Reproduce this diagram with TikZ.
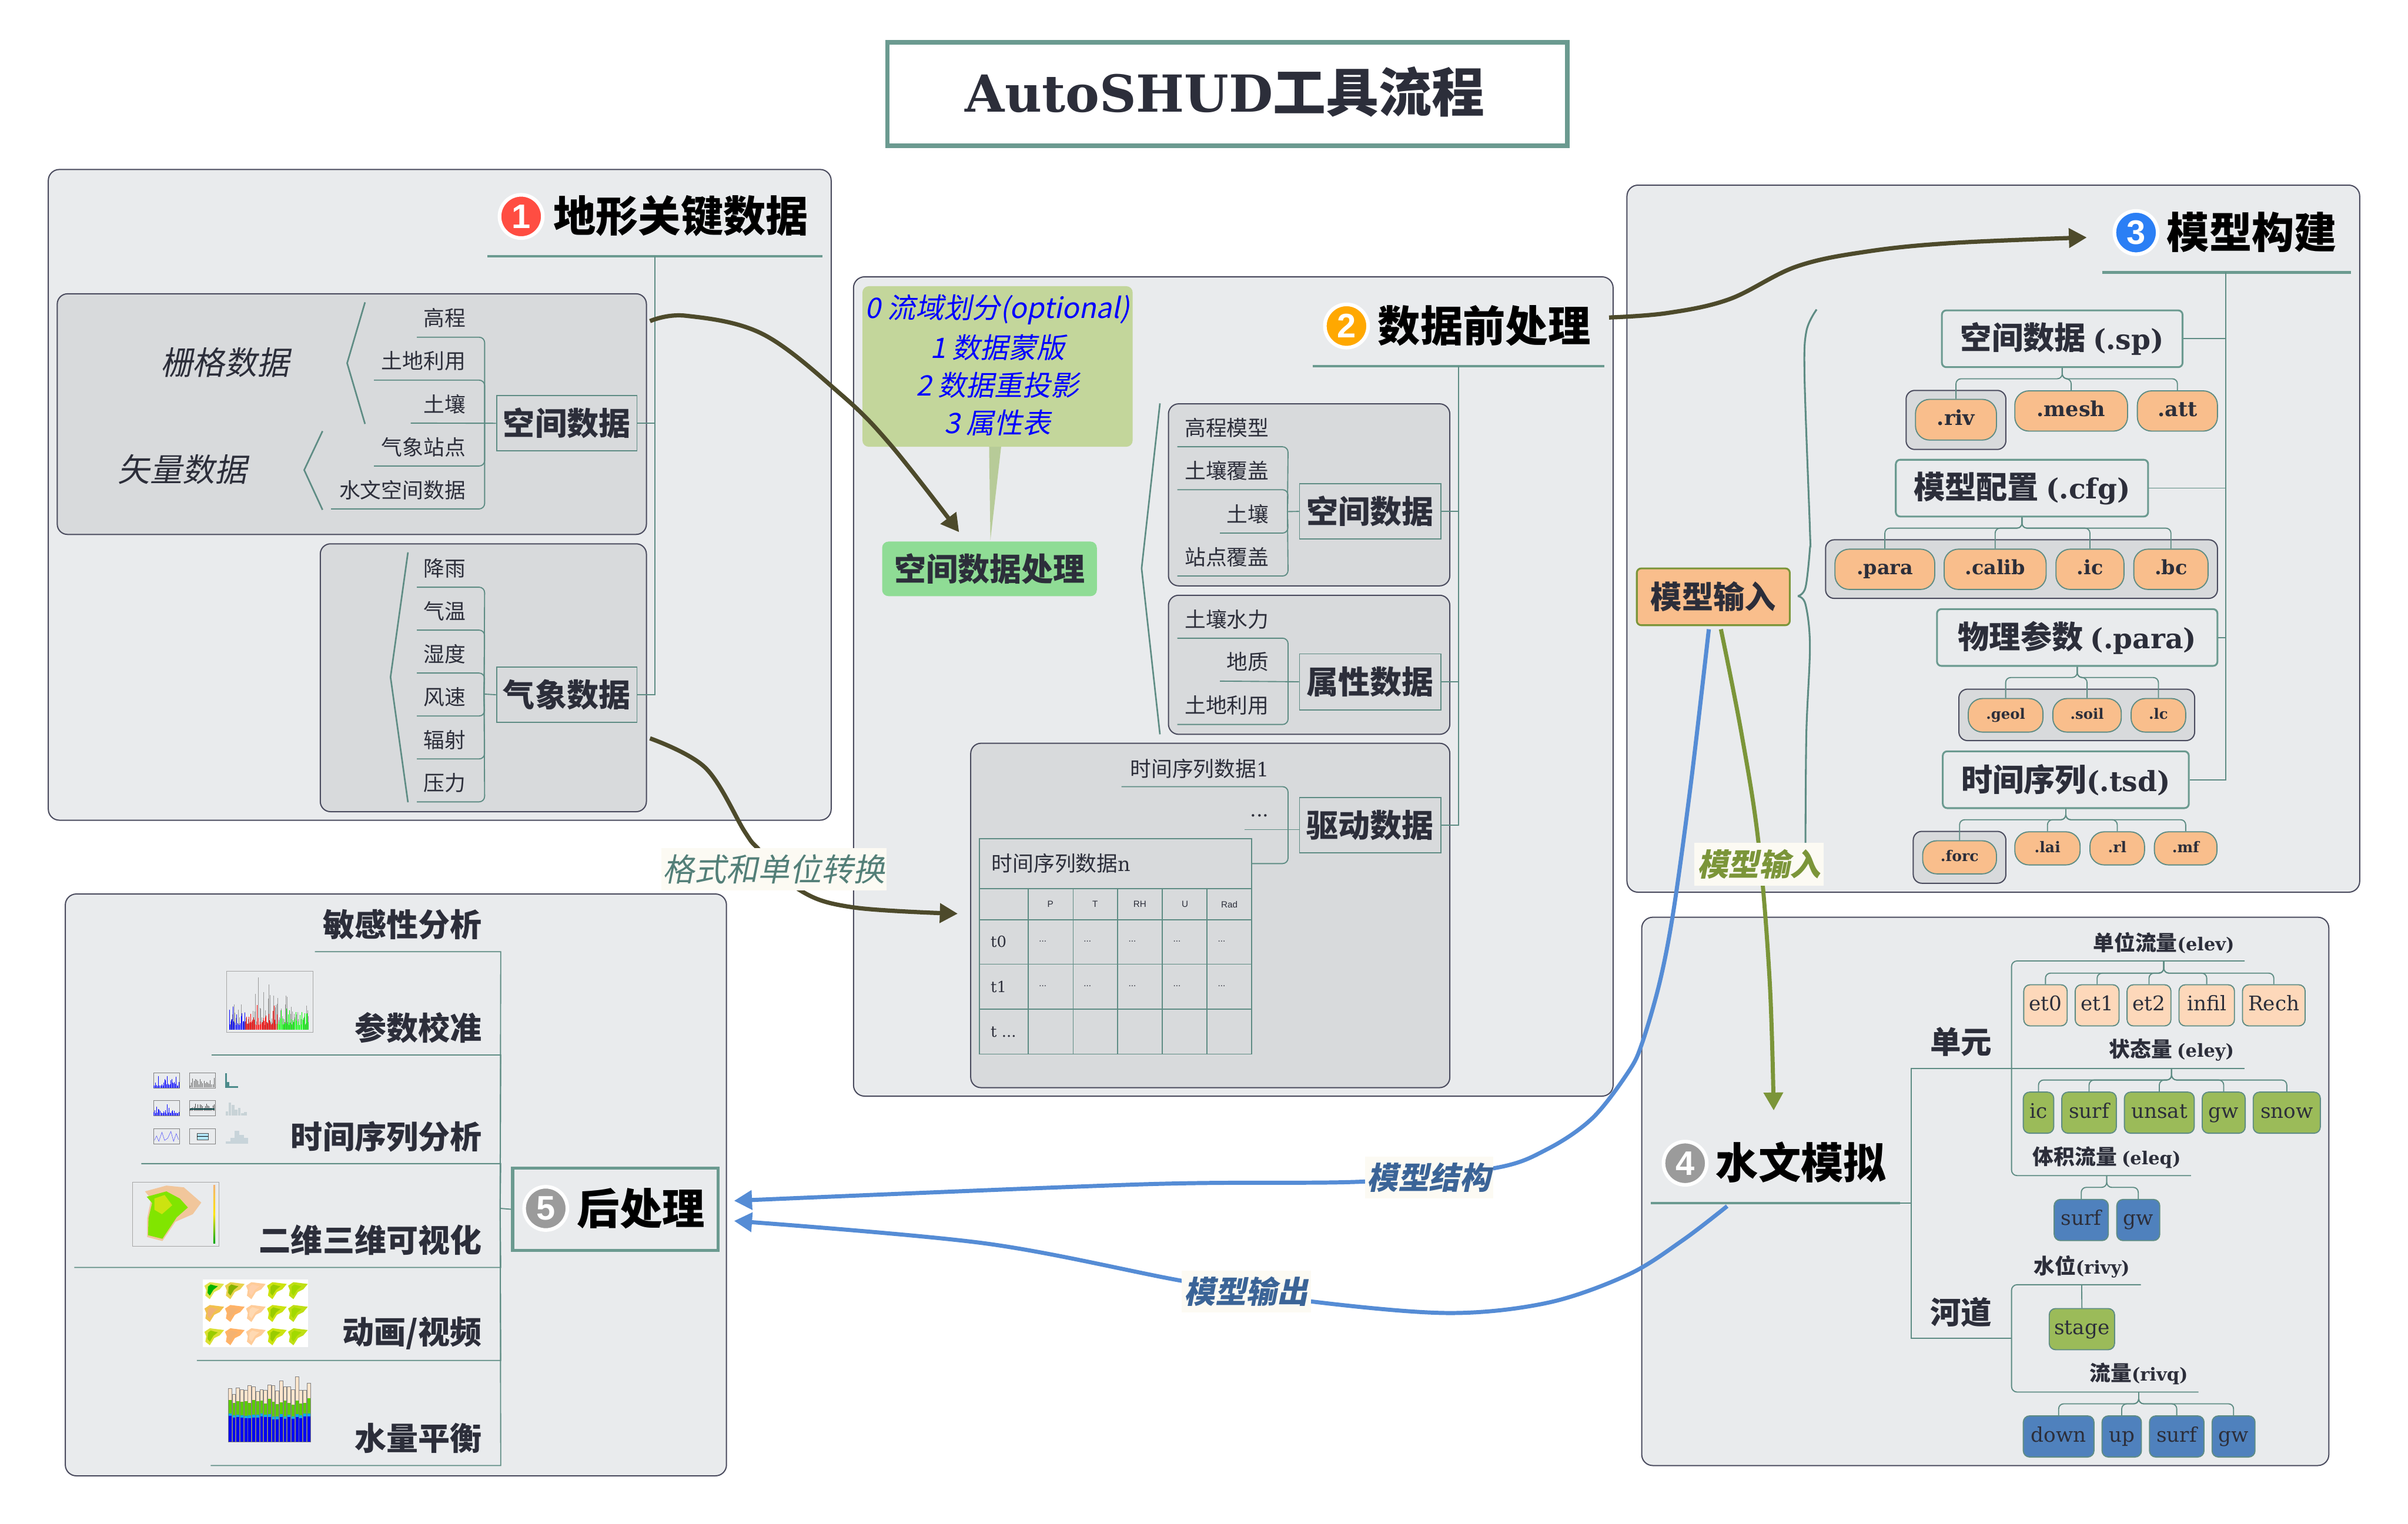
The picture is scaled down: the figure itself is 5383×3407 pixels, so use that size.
\documentclass[tikz,border=0pt]{standalone}
\usepackage{fontspec}
\usetikzlibrary{arrows.meta}
\setmainfont{Noto Sans CJK SC}
\newfontfamily\lat{DejaVu Serif}
\newfontfamily\cjit[FakeSlant=0.2]{Noto Sans CJK SC}
\newfontfamily\lsan{Liberation Sans}
\newcommand\fs[1]{\fontsize{\the\dimexpr 0.2845pt*#1\relax}{\the\dimexpr 0.34pt*#1\relax}\selectfont}
\newcommand\Pl[2]{\fs{#1}\lat\vphantom{dg}#2}
\definecolor{panelf}{HTML}{E9EBED}
\definecolor{subf}{HTML}{D8DADC}
\definecolor{panelb}{HTML}{4A4B5E}
\definecolor{tealn}{HTML}{5E8C84}
\definecolor{tealk}{HTML}{6B9A90}
\definecolor{ink}{HTML}{2C2E3A}
\definecolor{orng}{HTML}{F9BE8C}
\definecolor{lorng}{HTML}{FDD8BA}
\definecolor{grn}{HTML}{9BBB59}
\definecolor{blu}{HTML}{4F81BD}
\definecolor{calf}{HTML}{C3D69B}
\definecolor{calp}{HTML}{B7CB98}
\definecolor{mint}{HTML}{8FDC95}
\definecolor{darr}{HTML}{4D4A2B}
\definecolor{barr}{HTML}{558CD5}
\definecolor{garr}{HTML}{7B9539}
\definecolor{lblue}{HTML}{3B6497}
\definecolor{lteal}{HTML}{537F78}
\definecolor{lfill}{HTML}{FCFAF3}
\definecolor{bgred}{HTML}{FF4D42}
\definecolor{bgorg}{HTML}{FFA800}
\definecolor{bgblu}{HTML}{2B7FF5}
\definecolor{bggry}{HTML}{9B9B9B}
\tikzset{
 panel/.style={fill=panelf,draw=panelb,line width=.75pt,rounded corners=7pt},
 subpanel/.style={fill=subf,draw=panelb,line width=.75pt,rounded corners=6.5pt},
 tl/.style={draw=tealn,line width=.7pt},
 tlr/.style={tl,rounded corners=3.5pt},
 tkl/.style={draw=tealk,line width=1.7pt},
 brk/.style={draw=tealn,line width=1pt},
 txt/.style={inner sep=0,text=ink},
 boxthin/.style={txt,draw=tealn,line width=.7pt,font=\fs{71}\bfseries},
 boxthick/.style={txt,draw=tealk,line width=1.15pt,rounded corners=2.8pt,font=\fs{70}\bfseries},
 pill/.style={txt,draw=tealn,fill=orng,line width=.7pt,rounded corners=9pt,font=\bfseries},
 chip/.style={txt,draw=tealn,line width=.7pt,rounded corners=4pt,font=\fs{45}\lat},
 hdr/.style={inner sep=0,text=black,font=\fs{95}\bfseries},
 leaflab/.style={inner sep=0,text=ink,font=\fs{47}},
 ptlab/.style={inner sep=0,text=ink,font=\fs{71}\bfseries},
 conlab/.style={inner sep=0,fill=lfill,font=\fs{71}\cjit},
 arr/.style={line width=2.7pt,line cap=butt},
 tipk/.style={-{Triangle[length=11.4pt,width=12pt]}},
 cellt/.style={inner sep=0,text=ink},
 badge/.style={circle,draw=white,line width=2.3pt,minimum size=27.5pt,inner sep=0,text=white,font=\fs{76}\bfseries\lsan},
}
% name x1 y1 x2 y2 style text
\newcommand\R[7]{\pgfmathsetmacro\xc{(#2+#4)/2}\pgfmathsetmacro\yc{(#3+#5)/2}%
 \node[#6,minimum width={(#4-#2)*0.01cm},minimum height={(#5-#3)*0.01cm}] (#1) at (\xc,\yc) {#7};}
% name left yline right height style text  : underlined, text right-aligned
\newcommand\leaf[7]{\pgfmathsetlengthmacro\lw{(#4-#2)*0.01cm}%
 \node[#6,minimum width=\lw,minimum height={#5*0.01cm},anchor=south west] (#1) at (#2,#3) {\hbox to \lw{\hss #7\hskip 11.95pt}};}
\newcommand\tree[3]{\draw[tl,rounded corners=3.2pt] (#1.south) -- (#1.south |- 0,#2) -- (#3.north |- 0,#2) -- (#3.north);}
\newcommand\blob[4]{\begin{scope}[shift={(#1,#2)}]
 \fill[#3] (0,8)--(12,0)--(28,2)--(44,4)--(34,16)--(22,22)--(12,38)--(2,30)--(4,18)--cycle;
 \fill[#4] (8,10)--(14,5)--(24,8)--(30,9)--(20,17)--(12,30)--(7,24)--cycle;
 \end{scope}}
\begin{document}
\begin{tikzpicture}[x=0.01cm,y=-0.01cm]
\useasboundingbox (0,0) rectangle (5383,3407);
\fill[white] (0,0) rectangle (5383,3407);
% title
\R{title}{1984}{95}{3504}{326}{draw=tealk,line width=2.85pt,inner sep=0}{}
\node[inner sep=0,text=ink,font=\bfseries] (titlet) at (2738,205) {{\fs{114}\lat AutoSHUD}{\fs{118}工具流程}};
% ---------- panels
\draw[panel] (108,379) rectangle (1858,1834);
\draw[panel] (1908,619) rectangle (3606,2451);
\draw[panel] (3637,414) rectangle (5275,1995);
\draw[panel] (3670,2051) rectangle (5206,3277);
\draw[panel] (146,1999) rectangle (1624,3300);
% ---------- panel 1
\draw[subpanel] (128,657) rectangle (1445,1195);
\draw[subpanel] (716,1216) rectangle (1445,1815);
\node[hdr] (h1) at (1522,483) {地形关键数据};
\node[badge,fill=bgred] (b1) at (1165,484) {1};
\coordinate (h1l) at (1090,573); \coordinate (h1r) at (1838,573); \coordinate (h1c) at (1464,573);
\draw[tkl] (h1l) -- (h1r);
\R{sd1}{1110}{885}{1424}{1008}{boxthin}{\raisebox{1pt}{空间数据}}
\R{qx1}{1110}{1492}{1424}{1615}{boxthin}{\raisebox{1pt}{气象数据}}
\draw[tl] (h1c) |- (sd1.east); \draw[tl] (h1c) |- (qx1.east);
\leaf{a1}{932}{754}{1082}{84}{leaflab}{高程}
\leaf{a2}{836}{850}{1082}{84}{leaflab}{土地利用}
\leaf{a3}{918}{946}{1082}{84}{leaflab}{土壤}
\leaf{a4}{836}{1042}{1082}{84}{leaflab}{气象站点}
\leaf{a5}{740}{1138}{1082}{84}{leaflab}{水文空间数据}
\coordinate (ah) at (a3.south east);
\foreach \n in {a1,a2,a4,a5}{\draw[tlr] (\n.south west) -- (\n.south east) -- (ah);}
\draw[tl] (a3.south west) -- (sd1.west);
\leaf{q1}{932}{1313}{1082}{84}{leaflab}{降雨}
\leaf{q2}{932}{1409}{1082}{84}{leaflab}{气温}
\leaf{q3}{932}{1505}{1082}{84}{leaflab}{湿度}
\leaf{q4}{932}{1601}{1082}{84}{leaflab}{风速}
\leaf{q5}{932}{1697}{1082}{84}{leaflab}{辐射}
\leaf{q6}{932}{1793}{1082}{84}{leaflab}{压力}
\coordinate (qh) at (1082,1552);
\foreach \n in {q1,q2,q3,q4,q5,q6}{\draw[tlr] (\n.south west) -- (\n.south east) -- (qh);}
\draw[tl] (qh) -- (qx1.west);
\node[inner sep=0,text=ink,font=\fs{72}\cjit] (sg) at (503,810) {栅格数据};
\node[inner sep=0,text=ink,font=\fs{72}\cjit] (sl) at (408,1050) {矢量数据};
\draw[brk] (816,676) -- (776,812) -- (816,948);
\draw[brk] (721,964) -- (680,1051) -- (721,1140);
\draw[brk] (912,1235) -- (873,1514) -- (912,1794);
% ---------- panel 2
\draw[subpanel] (2612,903) rectangle (3241,1310);
\draw[subpanel] (2612,1331) rectangle (3241,1642);
\draw[subpanel] (2170,1662) rectangle (3241,2432);
\node[hdr] (h2) at (3318,728) {数据前处理};
\node[badge,fill=bgorg] (b2) at (3010,729) {2};
\coordinate (h2l) at (2934,819); \coordinate (h2r) at (3586,819); \coordinate (h2c) at (3261,819);
\draw[tkl] (h2l) -- (h2r);
\R{sd2}{2905}{1082}{3221}{1205}{boxthin}{\raisebox{1pt}{空间数据}}
\R{sx2}{2905}{1462}{3221}{1587}{boxthin}{\raisebox{1pt}{属性数据}}
\R{qd2}{2905}{1783}{3221}{1907}{boxthin}{\raisebox{1pt}{驱动数据}}
\draw[tl] (h2c) |- (sd2.east); \draw[tl] (h2c) |- (sx2.east); \draw[tl] (h2c) |- (qd2.east);
\leaf{s1}{2632}{999}{2878}{84}{leaflab}{高程模型}
\leaf{s2}{2632}{1095}{2878}{84}{leaflab}{土壤覆盖}
\leaf{s3}{2727}{1192}{2878}{84}{leaflab}{土壤}
\leaf{s4}{2632}{1288}{2878}{84}{leaflab}{站点覆盖}
\coordinate (sh) at (2878,1144);
\foreach \n in {s1,s2,s3,s4}{\draw[tlr] (\n.south west) -- (\n.south east) -- (sh);}
\draw[tl] (sh) -- (sd2.west);
\leaf{t1}{2632}{1427}{2878}{84}{leaflab}{土壤水力}
\leaf{t2}{2727}{1523}{2878}{84}{leaflab}{地质}
\leaf{t3}{2632}{1620}{2878}{84}{leaflab}{土地利用}
\coordinate (th) at (t2.south east);
\foreach \n in {t1,t3}{\draw[tlr] (\n.south west) -- (\n.south east) -- (th);}
\draw[tl] (t2.south west) -- (sx2.west);
\leaf{r1}{2507}{1759}{2878}{80}{leaflab}{时间序列数据{\fs{44}\lat 1}}
\leaf{r2}{2782}{1855}{2878}{60}{leaflab}{\fs{44}\lat ...}
\coordinate (rh) at (r2.south east);
\draw[tlr] (r1.south west) -- (r1.south east) -- (rh);
\draw[tl] (r2.south west) -- (qd2.west |- r2.south);
\R{tbl}{2190}{1875}{2798}{1987}{draw=tealn,line width=.7pt,inner sep=0}{}
\node[cellt,font=\fs{47},anchor=west] (tblt) at (2216,1930) {时间序列数据{\fs{44}\lat n}};
\draw[tlr] (tbl.east) -| (rh);
\draw[tl] (2190,1987) rectangle (2798,2357);
\foreach \y in {2057,2156,2257}{\draw[tl] (2190,\y) -- (2798,\y);}
\foreach \x in {2299,2399,2498,2598,2698}{\draw[tl] (\x,1987) -- (\x,2357);}
\foreach \x/\t/\nm in {2348/P/hp,2448/T/ht,2548/RH/hr,2649/U/hu,2748/Rad/hq}{\node[cellt,font=\fs{20}\lsan] (\nm) at (\x,2022) {\t};}
\node[cellt,font=\fs{34}\lat,anchor=west] (r0) at (2214,2106) {t0};
\node[cellt,font=\fs{34}\lat,anchor=west] (r11) at (2214,2207) {t1};
\node[cellt,font=\fs{34}\lat,anchor=west] (r2b) at (2214,2307) {t ...};
\foreach \x in {2331,2431,2531,2631,2731}{
 \node[cellt,font=\fs{20}\lsan] at (\x,2105) {...};
 \node[cellt,font=\fs{20}\lsan] at (\x,2205) {...};}
\draw[brk] (2593,902) -- (2552,1271) -- (2593,1642);
% callout
\fill[calp] (2211,990) -- (2239,990) -- (2214,1208) -- cycle;
\R{call}{1928}{640}{2532}{999}{fill=calf,rounded corners=4pt,inner sep=0}{}
\node[inner sep=0,text=blue,font=\fs{63}\cjit] (c0) at (2230,692) {0 流域划分(optional)};
\node[inner sep=0,text=blue,font=\fs{63}\cjit] (c1) at (2230,777) {1 数据蒙版};
\node[inner sep=0,text=blue,font=\fs{63}\cjit] (c2) at (2230,861) {2 数据重投影};
\node[inner sep=0,text=blue,font=\fs{63}\cjit] (c3) at (2230,945) {3 属性表};
\R{spp}{1972}{1211}{2452}{1333}{fill=mint,rounded corners=4pt,inner sep=0,text=ink,font=\fs{71}\bfseries}{空间数据处理}
% ---------- panel 3
\node[hdr] (h3) at (5034,519) {模型构建};
\node[badge,fill=bgblu] (b3) at (4775,520) {3};
\coordinate (h3l) at (4699,609); \coordinate (h3r) at (5255,609); \coordinate (h3c) at (4976,609);
\draw[tkl] (h3l) -- (h3r);
\draw[subpanel,rounded corners=5.5pt] (4261,873) rectangle (4484,1005);
\draw[subpanel,rounded corners=5.5pt] (4081,1207) rectangle (4957,1338);
\draw[subpanel,rounded corners=5.5pt] (4379,1541) rectangle (4906,1656);
\draw[subpanel,rounded corners=5.5pt] (4277,1859) rectangle (4484,1975);
\R{msp}{4341}{694}{4879}{821}{boxthick}{空间数据 {\fs{62}\lat (.sp)}}
\R{mcf}{4238}{1028}{4802}{1155}{boxthick}{模型配置 {\fs{62}\lat (.cfg)}}
\R{mpa}{4330}{1362}{4957}{1489}{boxthick}{物理参数 {\fs{62}\lat (.para)}}
\R{mts}{4343}{1680}{4893}{1807}{boxthick}{时间序列{\fs{62}\lat (.tsd)}}
\foreach \n in {msp,mcf,mpa,mts}{\draw[tl] (h3c) |- (\n.east);}
\R{riv}{4282}{893}{4463}{984}{pill}{\Pl{46}{.riv}}
\R{mesh}{4504}{874}{4756}{964}{pill}{\Pl{46}{.mesh}}
\R{att}{4778}{874}{4957}{964}{pill}{\Pl{46}{.att}}
\R{pp}{4102}{1228}{4325}{1318}{pill}{\Pl{44}{.para}}
\R{cal}{4346}{1228}{4574}{1318}{pill}{\Pl{44}{.calib}}
\R{icc}{4596}{1228}{4748}{1318}{pill}{\Pl{44}{.ic}}
\R{bcc}{4770}{1228}{4936}{1318}{pill}{\Pl{44}{.bc}}
\R{geol}{4400}{1562}{4567}{1637}{pill}{\Pl{32}{.geol}}
\R{soil}{4589}{1562}{4742}{1637}{pill}{\Pl{32}{.soil}}
\R{lcc}{4764}{1562}{4886}{1637}{pill}{\Pl{32}{.lc}}
\R{forc}{4298}{1880}{4463}{1954}{pill}{\Pl{33}{.forc}}
\R{lai}{4504}{1860}{4650}{1934}{pill}{\Pl{33}{.lai}}
\R{rlr}{4672}{1860}{4794}{1934}{pill}{\Pl{33}{.rl}}
\R{mfm}{4816}{1860}{4956}{1934}{pill}{\Pl{33}{.mf}}
\tree{msp}{847}{riv}\tree{msp}{847}{mesh}\tree{msp}{847}{att}
\tree{mcf}{1181}{pp}\tree{mcf}{1181}{cal}\tree{mcf}{1181}{icc}\tree{mcf}{1181}{bcc}
\tree{mpa}{1515}{geol}\tree{mpa}{1515}{soil}\tree{mpa}{1515}{lcc}
\tree{mts}{1833}{forc}\tree{mts}{1833}{lai}\tree{mts}{1833}{rlr}\tree{mts}{1833}{mfm}
\R{inp}{3659}{1271}{4001}{1398}{txt,fill=orng,draw=garr,line width=1.15pt,rounded corners=2.8pt,font=\fs{70}\bfseries}{模型输入}
\coordinate (bru) at (4061,692); \coordinate (brd) at (4036,1890);
\coordinate (brt) at (4019,1333);
\draw[brk,line width=1.15pt] plot[smooth,tension=.55] coordinates {(bru) (4038,741) (4034,844) (4046,1185) (4046,1227) (4036,1314) (brt)};
\draw[brk,line width=1.15pt] plot[smooth,tension=.55] coordinates {(brt) (4036,1351) (4046,1444) (4038,1640) (brd)};
% ---------- panel 4
\node[hdr] (h4) at (4026,2599) {水文模拟};
\node[badge,fill=bggry] (b4) at (3767,2601) {4};
\coordinate (h4l) at (3690,2690); \coordinate (h4r) at (4247,2690); \coordinate (h4h) at (4272,2690);
\draw[tkl] (h4l) -- (h4r); \draw[tl] (h4r) -- (h4h);
\R{du}{4272}{2270}{4496}{2388}{txt,font=\fs{69}\bfseries}{单元}
\R{hd}{4272}{2876}{4496}{2992}{txt,font=\fs{69}\bfseries}{河道}
\draw[tl] (h4h) |- (du.south); \draw[tl] (h4h) |- (hd.south);
\coordinate (g1) at (du.south east); \coordinate (g2) at (hd.south east);
\R{elev}{4657}{2068}{5017}{2148}{txt,font=\fs{47}\bfseries}{单位流量{\fs{40}\lat (elev)}}
\R{eley}{4692}{2308}{5017}{2388}{txt,font=\fs{47}\bfseries}{状态量 {\fs{40}\lat (eley)}}
\R{eleq}{4522}{2547}{4897}{2628}{txt,font=\fs{47}\bfseries}{体积流量 {\fs{40}\lat (eleq)}}
\R{rivy}{4522}{2792}{4785}{2872}{txt,font=\fs{47}\bfseries}{水位{\fs{40}\lat (rivy)}}
\R{rivq}{4648}{3032}{4914}{3112}{txt,font=\fs{47}\bfseries}{流量{\fs{40}\lat (rivq)}}
\draw[tl] (du.south) -- (eley.south east);
\draw[tl] (hd.south) -- (g2);
\draw[tlr] (elev.south east) -- (g1 |- elev.south) -- (g1);
\draw[tlr] (eleq.south east) -- (g1 |- eleq.south) -- (g1);
\draw[tlr] (rivy.south east) -- (g2 |- rivy.south) -- (g2);
\draw[tlr] (rivq.south east) -- (g2 |- rivq.south) -- (g2);
\foreach \n/\a/\b/\t in {et0/4524/4621/et0,et1/4639/4737/et1,et2/4755/4853/et2,infl/4871/4995/infil,rech/5013/5153/Rech}{
 \R{\n}{\a}{2202}{\b}{2294}{chip,fill=lorng}{\vphantom{dg}\t}\tree{elev}{2176}{\n}}
\foreach \n/\a/\b/\t in {icy/4523/4591/ic,sry/4609/4731/surf,uns/4749/4905/unsat,gwy/4923/5019/gw,sno/5037/5187/snow}{
 \R{\n}{\a}{2442}{\b}{2534}{chip,fill=grn}{\vphantom{dg}\t}\tree{eley}{2415}{\n}}
\foreach \n/\a/\b/\t in {srq/4592/4713/surf,gwq/4732/4828/gw}{
 \R{\n}{\a}{2682}{\b}{2774}{chip,fill=blu}{\vphantom{dg}\t}\tree{eleq}{2655}{\n}}
\R{stg}{4581}{2926}{4727}{3018}{chip,fill=grn}{\vphantom{dg}stage}
\draw[tl] (rivy.south) -- (stg.north);
\foreach \n/\a/\b/\t in {dwn/4523/4681/down,upp/4699/4787/up,srr/4805/4927/surf,gwr/4945/5041/gw}{
 \R{\n}{\a}{3166}{\b}{3258}{chip,fill=blu}{\vphantom{dg}\t}\tree{rivq}{3139}{\n}}
% ---------- panel 5
\R{post}{1146}{2612}{1605}{2796}{draw=tealk,line width=2pt,inner sep=0}{}
\node[hdr] (h5) at (1433,2702) {后处理};
\node[badge,fill=bggry] (b5) at (1220,2702) {5};
\leaf{p1}{704}{2128}{1118}{120}{ptlab}{敏感性分析}
\leaf{p2}{473}{2359}{1118}{120}{ptlab}{参数校准}
\leaf{p3}{316}{2602}{1118}{120}{ptlab}{时间序列分析}
\leaf{p4}{166}{2834}{1118}{120}{ptlab}{二维三维可视化}
\leaf{p5}{440}{3042}{1118}{120}{ptlab}{动画/视频}
\leaf{p6}{471}{3277}{1118}{120}{ptlab}{水量平衡}
\coordinate (pj) at (1118,2702);
\foreach \n in {p1,p2,p3,p4,p5,p6}{\draw[tl] (\n.south west) -- (\n.south east) -- (pj);}
\draw[tl] (pj) -- (post.west);
% raster-like pictures
\pgfmathsetseed{11}
\draw[black!35,line width=.2pt] (506,2172) rectangle (700,2308);
\foreach \i in {0,...,88}{
 \pgfmathsetmacro\xx{513+2*\i}
 \pgfmathsetmacro\hh{10+55*rnd*rnd}
 \pgfmathsetmacro\hk{10+115*rnd*rnd}
 \ifnum\i<18 \def\cc{blue}\else\ifnum\i<54 \def\cc{red}\else\def\cc{green}\fi\fi
 \draw[black!40,line width=.12pt] (\xx,2302) -- ++(0,-\hk);
 \draw[\cc,line width=.35pt] (\xx,2302) -- ++(0,-\hh);
}
% time-series grid
\foreach \y in {2399,2461,2524}{\foreach \x in {343,423}{\draw[black!50,line width=.2pt] (\x,\y) rectangle ++(58,34);}}
\foreach \y in {2399,2461}{\foreach \i in {0,...,28}{
 \pgfmathsetmacro\hh{4+24*rnd*rnd}
 \pgfmathsetmacro\xx{344+2*\i}
 \draw[blue,line width=.3pt] (\xx,\y+33) -- ++(0,-\hh);}}
\draw[blue!70,line width=.2pt] (345,2550) -- (350,2540) -- (355,2552) -- (362,2532) -- (368,2550) -- (375,2545) -- (382,2530) -- (388,2552) -- (394,2535) -- (399,2548);
\foreach \i in {0,...,19}{
 \pgfmathsetmacro\hh{3+22*rnd}
 \pgfmathsetmacro\xx{425+2.8*\i}
 \draw[black!60,line width=.15pt] (\xx,2431) -- ++(0,-\hh);
 \pgfmathsetmacro\hh{6+10*rnd}
 \draw[black!70,line width=.15pt] (\xx,2484) -- ++(0,-\hh);}
\fill[teal!50!black] (424,2478) rectangle (480,2481);
\fill[cyan!30] (440,2534) rectangle (465,2548); \draw[black!70,line width=.2pt] (440,2534) rectangle (465,2548); \draw[black,line width=.4pt] (440,2541) -- (465,2541);
\fill[black!30!teal!70!white] (503,2400) rectangle (507,2432); \fill[black!30!teal!70!white] (507,2420) rectangle (512,2432); \fill[black!30!teal!70!white] (512,2428) rectangle (532,2432);
\foreach \x/\h in {504/10,511/30,518/24,525/14,532/18,539/6,546/8}{\fill[cyan!30!black!25!white] (\x,2495) rectangle ++(6,-\h);}
\foreach \x/\h in {505/6,515/14,525/30,535/20,545/14}{\fill[cyan!35!black!25!white] (\x,2558) rectangle ++(10,-\h);}
% map
\draw[black!35,line width=.2pt] (296,2643) rectangle (489,2786);
\fill[orange!50!brown!45] (324,2664)--(372,2651)--(411,2655)--(450,2689)--(431,2715)--(392,2732)--(363,2775)--(329,2766)--(329,2724)--(338,2681)--cycle;
\fill[lime!75!green!90!black] (328,2676)--(372,2664)--(402,2680)--(420,2700)--(395,2722)--(363,2770)--(331,2762)--(332,2724)--(340,2690)--cycle;
\fill[yellow!80!green] (345,2680)--(368,2672)--(385,2695)--(362,2715)--(345,2705)--cycle;
\shade[top color=orange!70!brown!60,bottom color=green!65!black,middle color=yellow!80!orange] (477,2650) rectangle (481,2780);
% animation grid
\fill[white] (454,2861) rectangle (688,3012);
\foreach \x/\a/\b in {457/lime!70!orange!70/green!70!black,503/orange!50!lime!70/lime!70!black,550/orange!40!white/orange!35!white!85!pink,597/yellow!80!green/lime!80!black,644/yellow!75!green/lime!85!black}{\blob{\x}{2867}{\a}{\b}}
\foreach \x/\a/\b in {457/orange!70!lime!70/orange!60!brown!60,503/orange!60!white/orange!70!brown!60,550/orange!40!white/orange!30!white,597/yellow!80!green/lime!80!black,644/yellow!75!green/lime!85!black}{\blob{\x}{2918}{\a}{\b}}
\foreach \x/\a/\b in {457/lime!70!orange!80/lime!80!black,503/orange!60!white/orange!70!brown!60,550/orange!40!white/orange!30!white,597/yellow!80!green/lime!80!black,644/yellow!75!green/lime!85!black}{\blob{\x}{2970}{\a}{\b}}
% water balance
\foreach \i/\t in {0/26,1/20,2/30,3/28,4/24,5/40,6/30,7/22,8/24,9/30,10/32,11/36,12/30,13/48,14/32,15/36,16/34,17/54,18/30,19/28,20/34}{
 \pgfmathsetmacro\xx{510+8.8*\i}
 \pgfmathsetmacro\hb{50+8*rnd}
 \pgfmathsetmacro\hg{24+12*rnd}
 \fill[blue!95!black] (\xx,3224) rectangle ++(7.6,-\hb);
 \fill[cyan] (\xx,3224-\hb) rectangle ++(7.6,-6);
 \fill[green!55!yellow!80!black] (\xx,3218-\hb) rectangle ++(7.6,-\hg);
 \fill[orange!20!white] (\xx,3218-\hb-\hg) rectangle ++(7.6,-\t);
 \draw[black!50,line width=.1pt] (\xx,3224) rectangle ++(7.6,-\hb-6-\hg-\t);
}
% ---------- connectors
\coordinate (a1s) at (1453,718); \coordinate (a1e) at (2144,1190);
\draw[arr,tipk,draw=darr] plot[smooth,tension=.6] coordinates {(a1s) (1533,706) (1705,747) (1880,882) (1992,996) (a1e)};
\coordinate (a2s) at (1453,1651); \coordinate (a2e) at (2141,2043);
\draw[arr,tipk,draw=darr] plot[smooth,tension=.6] coordinates {(a2s) (1577,1717) (1665,1860) (1697,1900) (1789,1991) (1908,2029) (a2e)};
\coordinate (a3s) at (3597,710); \coordinate (a3e) at (4665,531);
\draw[arr,tipk,draw=darr] plot[smooth,tension=.6] coordinates {(a3s) (3727,700) (3866,669) (4016,596) (4177,562) (4370,543) (a3e)};
\coordinate (a4s) at (3847,1407); \coordinate (a4e) at (3965,2483);
\draw[arr,line width=2.6pt,tipk,draw=garr] plot[smooth,tension=.6] coordinates {(a4s) (3893,1640) (3931,1884) (3956,2193) (a4e)};
\coordinate (a5s) at (3820,1407); \coordinate (a5e) at (1641,2685);
\draw[arr,line width=2.6pt,tipk,draw=barr] plot[smooth,tension=.55] coordinates {(a5s) (3781,1743) (3742,2030) (3711,2193) (3671,2332) (3640,2397) (3560,2500) (3460,2569) (3341,2612) (3051,2642) (2560,2648) (a5e)};
\coordinate (a6s) at (3861,2697); \coordinate (a6e) at (1641,2730);
\draw[arr,line width=2.6pt,tipk,draw=barr] plot[smooth,tension=.55] coordinates {(a6s) (3762,2773) (3640,2850) (3460,2913) (3237,2936) (2930,2910) (2642,2864) (2200,2780) (a6e)};
% connector labels
\R{lb1}{1479}{1897}{1982}{1991}{conlab,text=lteal}{格式和单位转换}
\R{lb2}{3788}{1884}{4077}{1980}{conlab,text=garr,font=\fs{69}\bfseries\cjit}{模型输入}
\R{lb3}{3051}{2586}{3338}{2680}{conlab,text=lblue,font=\fs{69}\bfseries\cjit}{模型结构}
\R{lb4}{2642}{2841}{2930}{2935}{conlab,text=lblue,font=\fs{69}\bfseries\cjit}{模型输出}
\end{tikzpicture}
\end{document}
